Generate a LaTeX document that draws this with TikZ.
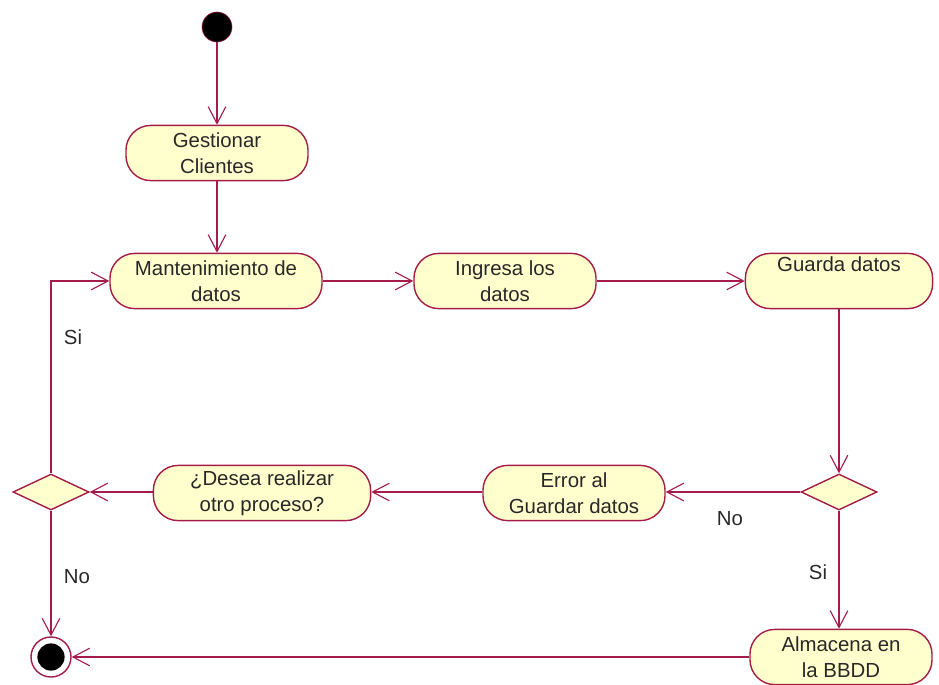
\documentclass[tikz,border=0pt]{standalone}
\usepackage{fontspec}
\setmainfont{Liberation Sans}
\usetikzlibrary{arrows.meta,shapes.geometric}
\definecolor{linea}{RGB}{165,28,72}
\definecolor{relleno}{RGB}{255,255,206}
\definecolor{texto}{RGB}{40,40,40}

\begin{document}
\begin{tikzpicture}[x=0.025cm, y=-0.025cm,
    font=\fontsize{14.5}{18.5}\selectfont, text=texto,
    flecha/.style = {draw=linea, line width=1pt,
                     -{Straight Barb[length=4.2mm, width=4.4mm, line width=0.8pt]}},
    accion/.style = {draw=linea, line width=1pt, fill=relleno, rounded corners=0.62cm, align=center,
                     minimum width=4.55cm, minimum height=1.38cm, inner sep=1pt},
    decision/.style = {draw=linea, line width=1pt, fill=relleno, diamond, inner sep=0pt,
                       minimum width=1.9cm, minimum height=0.9cm},
    inicio/.style = {draw=linea, fill=black, circle, minimum size=0.75cm, inner sep=0pt},
    etiqueta/.style = {inner sep=0pt}]
        \useasboundingbox (0,0) rectangle (939,684);
        \node[inicio] (ini) at (217,27) {};
        \node[accion] (gest) at (217,153) {Gestionar\\Clientes};
        \node[accion, minimum width=5.3cm] (mant) at (216,281) {Mantenimiento de\\datos};
        \node[accion] (ingr) at (505,281) {Ingresa los\\datos};
        \node[accion, minimum width=4.68cm] (guar) at (839,281) {Guarda datos\\\strut};
        \node[decision] (decd) at (839,492) {};
        \node[accion] (err) at (574,493) {Error al\\Guardar datos};
        \node[accion, minimum width=5.43cm] (otro) at (262,493) {¿Desea realizar\\otro proceso?};
        \node[decision] (deci) at (51,492) {};
        \node[accion] (alma) at (841,657) {Almacena en\\la BBDD};
        \node[draw=linea, line width=1pt, fill=white, circle, minimum size=1cm, inner sep=0pt] (fin) at (51,657) {};
        \node[fill=black, circle, minimum size=0.68cm, inner sep=0pt] (fin2) at (fin) {};

        \node[etiqueta] (si1) at (73,337) {Si};
        \node[etiqueta] (no1) at (77,577) {No};
        \node[etiqueta] (no2) at (730,519) {No};
        \node[etiqueta] (si2) at (818,572) {Si};

        \draw[flecha] (ini) -- (gest);
        \draw[flecha] (gest) -- (gest |- mant.north);
        \draw[flecha] (mant) -- (ingr);
        \draw[flecha] (ingr) -- (guar);
        \draw[flecha] (guar.south -| decd) -- (decd);
        \draw[flecha] (decd) -- (decd -| err.east);
        \draw[flecha] (err.west |- decd) -- (otro.east |- decd);
        \draw[flecha] (otro.west |- decd) -- (deci);
        \draw[flecha] (deci.north) |- (mant.west);
        \draw[flecha] (deci) -- (fin);
        \draw[flecha] (decd) -- (decd |- alma.north);
        \draw[flecha] (alma) -- (fin);
    \end{tikzpicture}
\end{document}
